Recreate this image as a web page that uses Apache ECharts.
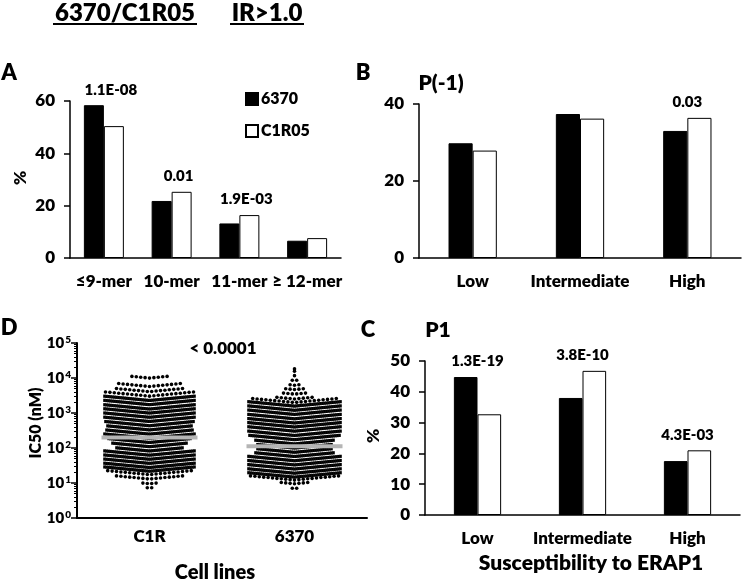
<!DOCTYPE html>
<html lang="en">
<head>
    <meta charset="UTF-8">
    <title>6370/C1R05 IR>1.0</title>
    <style>
        html, body { margin: 0; padding: 0; background: #fff; }
        #box { width: 742px; height: 580px; }
    </style>
</head>
<body>
    <div id="box"></div>
    <script src="https://cdn.jsdelivr.net/npm/echarts@6/dist/echarts.min.js"></script>
    <script>
        // panel A - peptide length
        var lenCats = ['≤9-mer', '10-mer', '11-mer', '≥ 12-mer'];
        var lenBlack = [58.4, 21.8, 13.2, 6.6];
        var lenWhite = [50.4, 25.3, 16.4, 7.6];
        var lenP = ['1.1E-08', '0.01', '1.9E-03', ''];

        // panel B - P(-1)
        var suscCats = ['Low', 'Intermediate', 'High'];
        var pm1Black = [29.8, 37.4, 33.0];
        var pm1White = [27.9, 36.2, 36.4];
        var pm1P = ['', '', '0.03'];

        // panel C - P1
        var p1Black = [44.8, 38.0, 17.5];
        var p1White = [32.7, 46.8, 21.0];
        var p1P = ['1.3E-19', '3.8E-10', '4.3E-03'];

        // panel D - IC50 (nM) rows of the dot plot: [value, number of peptides]
        var cellCats = ['C1R', '6370'];
        var c1rRows = [
            [11500, 9], [6600, 15], [4700, 16], [3500, 21],
            [2630, 46], [2000, 46], [1500, 46], [1150, 46], [871, 46], [661, 46],
            [500, 45], [380, 43], [288, 44], [219, 46], [166, 42], [126, 38],
            [95, 34], [72, 46], [55, 46], [42, 46], [32, 46], [25, 46],
            [20, 20], [15, 16], [11, 4], [8.3, 2]
        ];
        var r6370Rows = [
            [21000, 1], [18000, 1], [13500, 1], [9800, 2], [7200, 3], [5400, 5],
            [4000, 6], [2900, 9], [2300, 20],
            [1820, 47], [1380, 47], [1050, 47], [790, 47], [600, 47], [460, 47],
            [350, 47], [263, 47], [200, 46], [151, 40], [115, 38], [87, 38],
            [66, 40], [50, 47], [38, 47], [29, 47], [22, 47], [17, 47],
            [14, 21], [11, 7], [8.1, 2]
        ];
        var medians = [200, 112];

        var FONT = 'Lato';
        var W = 800;
        var myChart = echarts.init(document.getElementById('box'));

        // lay each row of dots side by side around the column centre,
        // with the slight chevron that the original plot shows
        function swarm(rows, cat) {
            var pts = [];
            rows.forEach(function (r) {
                var n = r[1];
                var dense = n > 24;
                var s = dense ? 2 : 4.4;
                var w = Math.min((n - 1) * s, 92);
                var step = n > 1 ? w / (n - 1) : 0;
                for (var k = 0; k < n; k++) {
                    var dx = -w / 2 + k * step;
                    var dy = 2.2 - 4.4 * Math.abs(dx) / 46;
                    var p = { value: [cat, r[0]], symbolOffset: [dx, dy] };
                    if (dense) { p.symbol = 'rect'; p.symbolSize = [2.6, 3.2]; }
                    pts.push(p);
                }
            });
            return pts;
        }

        function pLabels(black, white, pv) {
            var out = [];
            for (var i = 0; i < pv.length; i++) {
                if (pv[i]) out.push({ value: [i, Math.max(black[i], white[i])], name: pv[i] });
            }
            return out;
        }

        var axisLine = { lineStyle: { color: '#000', width: 1.5 } };
        var tick = { length: 6, lineStyle: { color: '#000', width: 1.5 } };
        var lab = { color: '#000', fontFamily: FONT, fontWeight: W, fontSize: 17 };

        function catAxis(idx, cats) {
            return {
                type: 'category', gridIndex: idx, data: cats,
                axisLine: axisLine, axisTick: tick,
                axisLabel: Object.assign({ margin: 15, interval: 0 }, lab)
            };
        }
        function valAxis(idx, max, step) {
            return {
                type: 'value', gridIndex: idx, min: 0, max: max, interval: step,
                axisLine: Object.assign({ show: true }, axisLine),
                axisTick: Object.assign({ show: true }, tick),
                splitLine: { show: false },
                axisLabel: Object.assign({ margin: 15 }, lab)
            };
        }
        function bars(name, idx, data, gap, fill) {
            return {
                name: name, type: 'bar', xAxisIndex: idx, yAxisIndex: idx, data: data,
                barGap: '0%', barCategoryGap: gap,
                itemStyle: { color: fill, borderColor: '#000', borderWidth: 1 }
            };
        }
        function pSeries(idx, data, off) {
            return {
                type: 'scatter', xAxisIndex: idx, yAxisIndex: idx, data: data,
                symbolSize: 0, silent: true, itemStyle: { opacity: 1 },
                label: {
                    show: true, position: 'top', distance: 8, offset: [off, 0],
                    formatter: '{b}', color: '#000', opacity: 1,
                    fontFamily: FONT, fontWeight: W, fontSize: 15
                }
            };
        }
        function txt(x, y, s, size, rot) {
            return {
                type: 'text', x: x, y: y, rotation: rot || 0,
                style: {
                    text: s, fill: '#000', font: W + ' ' + size + 'px ' + FONT,
                    align: 'center', verticalAlign: 'middle'
                }
            };
        }
        function uline(x1, x2, y) {
            return {
                type: 'line', shape: { x1: x1, y1: y, x2: x2, y2: y },
                style: { stroke: '#000', lineWidth: 2 }
            };
        }

        var option = {
            animation: false,
            backgroundColor: '#fff',
            grid: [
                { left: 70, top: 101, width: 271, height: 157, outerBoundsMode: 'none' },
                { left: 419, top: 104, width: 322, height: 154, outerBoundsMode: 'none' },
                { left: 425, top: 361, width: 315, height: 154, outerBoundsMode: 'none' },
                { left: 77, top: 343, width: 290, height: 175, outerBoundsMode: 'none' }
            ],
            legend: {
                data: ['6370', 'C1R05'], orient: 'vertical', left: 240, top: 86,
                icon: 'rect', itemWidth: 12, itemHeight: 12, itemGap: 16,
                textStyle: { color: '#000', fontFamily: FONT, fontWeight: W, fontSize: 16, padding: [0, 0, 0, -2] }
            },
            xAxis: [
                catAxis(0, lenCats),
                catAxis(1, suscCats),
                catAxis(2, suscCats),
                {
                    type: 'category', gridIndex: 3, data: cellCats,
                    axisLine: { lineStyle: { color: '#000', width: 2 } },
                    axisTick: { alignWithLabel: true, length: 6, lineStyle: { color: '#000', width: 2 } },
                    axisLabel: Object.assign({ margin: 10 }, lab)
                }
            ],
            yAxis: [
                valAxis(0, 60, 20),
                valAxis(1, 40, 20),
                valAxis(2, 50, 10),
                {
                    type: 'log', gridIndex: 3, logBase: 10, min: 1, max: 100000,
                    axisLine: { show: true, lineStyle: { color: '#000', width: 2 } },
                    axisTick: { show: true, length: 6, lineStyle: { color: '#000', width: 1.5 } },
                    minorTick: { show: true, splitNumber: 9, length: 3, lineStyle: { color: '#000', width: 1 } },
                    splitLine: { show: false },
                    axisLabel: {
                        margin: 6, color: '#000',
                        formatter: function (v) { return '{b|10}{s|' + Math.round(Math.log10(v)) + '}'; },
                        rich: {
                            b: { fontFamily: FONT, fontWeight: W, fontSize: 15 },
                            s: { fontFamily: FONT, fontWeight: W, fontSize: 10, verticalAlign: 'top', padding: [0, 0, 6, 1] }
                        }
                    }
                }
            ],
            series: [
                bars('6370', 0, lenBlack, '41%', '#000'),
                bars('C1R05', 0, lenWhite, '41%', '#fff'),
                bars('6370', 1, pm1Black, '55%', '#000'),
                bars('C1R05', 1, pm1White, '55%', '#fff'),
                bars('6370', 2, p1Black, '55%', '#000'),
                bars('C1R05', 2, p1White, '55%', '#fff'),
                pSeries(0, pLabels(lenBlack, lenWhite, lenP), 7),
                pSeries(1, pLabels(pm1Black, pm1White, pm1P), 0),
                pSeries(2, pLabels(p1Black, p1White, p1P), 0),
                {
                    type: 'scatter', xAxisIndex: 3, yAxisIndex: 3, silent: true,
                    symbol: 'circle', symbolSize: 3.6, itemStyle: { color: '#000', opacity: 1 },
                    data: swarm(c1rRows, 0).concat(swarm(r6370Rows, 1))
                },
                {
                    type: 'scatter', xAxisIndex: 3, yAxisIndex: 3, silent: true, z: 5,
                    symbol: 'rect', symbolSize: [96, 4], itemStyle: { color: '#b5b5b5', opacity: 1 },
                    data: medians.map(function (m, i) { return [i, m]; })
                }
            ],
            graphic: [
                txt(125, 13, '6370/C1R05', 24), uline(53, 197, 24),
                txt(267, 13, 'IR>1.0', 24), uline(230, 304, 24),
                txt(9, 73, 'A', 22), txt(363, 73, 'B', 22),
                txt(9, 328, 'D', 22), txt(368, 330, 'C', 22),
                txt(441, 83, 'P(-1)', 21), txt(438, 330, 'P1', 21),
                txt(21, 178, '%', 17, Math.PI / 2),
                txt(374, 436, '%', 17, Math.PI / 2),
                txt(36, 423, 'IC50 (nM)', 16, Math.PI / 2),
                txt(223, 349, '< 0.0001', 17),
                txt(215, 573, 'Cell lines', 20),
                txt(591, 563, 'Susceptibility to ERAP1', 21)
            ]
        };

        option && myChart.setOption(option);
    </script>
</body>
</html>
